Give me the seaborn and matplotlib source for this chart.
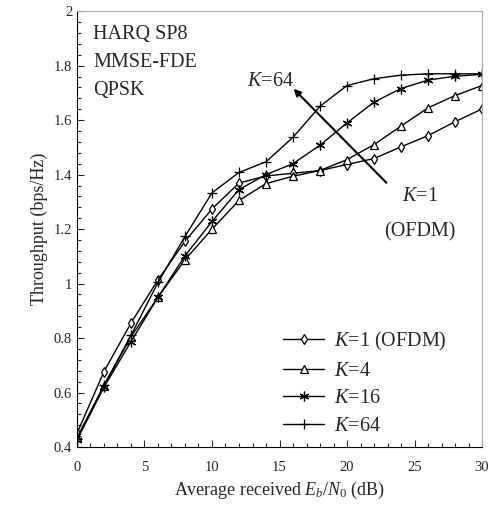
import seaborn as sns
import matplotlib.pyplot as plt
import pandas as pd
from matplotlib.ticker import MultipleLocator, FormatStrFormatter

# Eb/N0 points (dB)
snr = [0, 2, 4, 6, 8, 10, 12, 14, 16, 18, 20, 22, 24, 26, 28, 30]

# throughput (bps/Hz)
k1 = [0.45, 0.677, 0.855, 1.014, 1.155, 1.274, 1.369, 1.395, 1.405, 1.415, 1.437, 1.459, 1.502, 1.543, 1.594, 1.641]
k4 = [0.435, 0.625, 0.805, 0.95, 1.087, 1.20, 1.305, 1.367, 1.394, 1.415, 1.455, 1.51, 1.578, 1.645, 1.69, 1.727]
k16 = [0.426, 0.62, 0.787, 0.95, 1.102, 1.228, 1.345, 1.40, 1.44, 1.508, 1.59, 1.666, 1.716, 1.747, 1.761, 1.768]
k64 = [0.428, 0.627, 0.81, 1.004, 1.173, 1.333, 1.408, 1.447, 1.537, 1.651, 1.727, 1.752, 1.765, 1.77, 1.77, 1.77]

labels = ['$K$=1 (OFDM)', '$K$=4', '$K$=16', '$K$=64']
markers = ['d', '^', (6, 2, 0), '+']
msizes = [5, 6, 7, 7]

sns.set_style('ticks')
plt.rcParams['font.family'] = ['Liberation Serif', 'DejaVu Serif']
plt.rcParams['mathtext.fontset'] = 'custom'
plt.rcParams['mathtext.rm'] = 'Liberation Serif'
plt.rcParams['mathtext.it'] = 'Liberation Serif:italic'

fig = plt.figure(figsize=(4.98, 5.07), dpi=100)
ax = fig.add_axes([0.1546, 0.1183, 0.8133, 0.8597])

for vals, lab, m, ms in zip([k1, k4, k16, k64], labels, markers, msizes):
    df = pd.DataFrame({'snr': snr, 'tp': vals})
    sns.lineplot(data=df, x='snr', y='tp', ax=ax, color='black', lw=1.0,
                 marker=m, markersize=ms, markerfacecolor='white',
                 markeredgecolor='black', markeredgewidth=0.9, label=lab)

ax.set_xlim(0, 30)
ax.set_ylim(0.4, 2.0)
ax.xaxis.set_major_locator(MultipleLocator(5))
ax.xaxis.set_minor_locator(MultipleLocator(1))
ax.yaxis.set_major_locator(MultipleLocator(0.2))
ax.yaxis.set_minor_locator(MultipleLocator(0.04))
ax.yaxis.set_major_formatter(FormatStrFormatter('%g'))
ax.tick_params(which='both', direction='in', top=False, right=False, labelsize=10.5)
ax.tick_params(which='major', length=5, width=0.8)
ax.tick_params(which='minor', length=3, width=0.8)
ax.tick_params(axis='x', pad=10)
for s in ['top', 'right']:
    ax.spines[s].set_color('#aaaaaa')
for s in ['left', 'bottom']:
    ax.spines[s].set_color('black')

ax.set_xlabel('Average received $E_b/N_0$ (dB)', fontsize=13)
ax.set_ylabel('Throughput (bps/Hz)', fontsize=13)

ax.text(1.2, 1.915, 'HARQ SP8', fontsize=14.5, va='center')
ax.text(1.2, 1.81, 'MMSE-FDE', fontsize=14.5, va='center')
ax.text(1.2, 1.71, 'QPSK', fontsize=14.5, va='center')

ax.annotate('', xy=(15.9, 1.722), xytext=(23.06, 1.363),
            arrowprops=dict(arrowstyle='-|>', lw=1.5, color='black', mutation_scale=10))
ax.text(14.3, 1.743, '$K$=64', fontsize=14.5, ha='center', va='center')
ax.text(25.4, 1.32, '$K$=1', fontsize=14.5, ha='center', va='center')
ax.text(25.4, 1.19, '(OFDM)', fontsize=14.5, ha='center', va='center')

ax.legend(loc='upper left', bbox_to_anchor=(0.465, 0.31), frameon=False,
          fontsize=14.5, handlelength=2.0, labelspacing=0.42, handletextpad=0.5)

fig.savefig('out.png', dpi=100)
